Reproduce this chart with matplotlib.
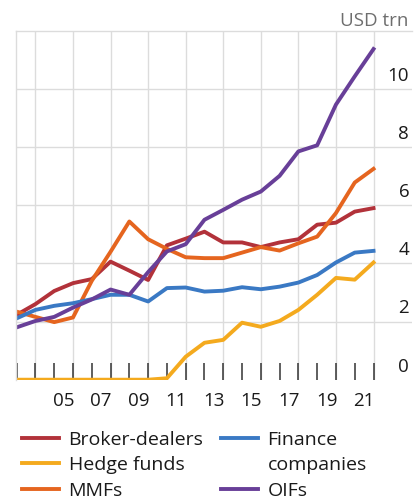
import matplotlib
matplotlib.use('Agg')

import matplotlib.pyplot as plt
from matplotlib.lines import Line2D

plt.rcParams['font.family'] = ['Open Sans', 'DejaVu Sans']

# Données (fin d'année, USD trn)
years = list(range(2003, 2023))
broker_dealers = [2.23, 2.60, 3.05, 3.32, 3.46, 4.06, 3.75, 3.43, 4.62, 4.85,
                  5.09, 4.72, 4.72, 4.56, 4.72, 4.83, 5.33, 5.40, 5.78, 5.90]
hedge_funds = [0, 0, 0, 0, 0, 0, 0, 0, 0.05, 0.79,
               1.27, 1.37, 1.96, 1.82, 2.02, 2.40, 2.92, 3.50, 3.44, 4.03]
mmfs = [2.34, 2.16, 1.98, 2.14, 3.40, 4.40, 5.44, 4.83, 4.50, 4.21,
        4.18, 4.18, 4.37, 4.56, 4.44, 4.69, 4.92, 5.73, 6.78, 7.25]
finance_cos = [2.11, 2.40, 2.54, 2.63, 2.77, 2.92, 2.92, 2.69, 3.15, 3.17,
               3.03, 3.06, 3.18, 3.11, 3.20, 3.34, 3.60, 4.03, 4.37, 4.43]
oifs = [1.80, 2.02, 2.16, 2.48, 2.76, 3.10, 2.92, 3.70, 4.41, 4.66,
        5.50, 5.84, 6.19, 6.47, 7.01, 7.85, 8.06, 9.46, 10.43, 11.37]

y_ticks = [0, 2, 4, 6, 8, 10]
grid_years = list(range(2004, 2023, 2))
label_years = list(range(2005, 2022, 2))

fig = plt.figure(figsize=(4.2, 5.01), dpi=100)
ax = fig.add_axes([0.0374, 0.2421, 0.9436, 0.6966])

lw = 2.8
ax.plot(years, broker_dealers, color='#B2323A', lw=lw, label='Broker-dealers')
ax.plot(years, hedge_funds, color='#F4AA1E', lw=lw, label='Hedge funds')
ax.plot(years, mmfs, color='#E5651F', lw=lw, label='MMFs')
ax.plot(years, finance_cos, color='#3A79C4', lw=lw, label='Finance')
ax.plot(years, oifs, color='#683F98', lw=lw, label='OIFs')

ax.set_xlim(2002.95, 2024.05)
ax.set_ylim(0, 12)

# Grille
for gy in grid_years:
    ax.axvline(gy, color='#DCDCDC', lw=1, zorder=0)
for v in y_ticks[1:]:
    ax.axhline(v, color='#DCDCDC', lw=1, zorder=0)

# Cadre
for side in ['right', 'bottom']:
    ax.spines[side].set_visible(False)
for side in ['top', 'left']:
    ax.spines[side].set_color('#DCDCDC')
    ax.spines[side].set_linewidth(1)

# Axe X : traits chaque année, étiquettes au milieu des années impaires
ax.set_xticks(years)
ax.set_xticklabels([])
ax.tick_params(axis='x', which='major', direction='in', length=12,
               width=1.1, color='#333333')
ax.set_xticks([y + 0.5 for y in label_years], minor=True)
ax.set_xticklabels([f'{y % 100:02d}' for y in label_years], minor=True)
ax.tick_params(axis='x', which='minor', length=0, pad=9,
               labelsize=13.5, labelcolor='#1A1A1A')

# Axe Y : étiquettes à droite, au-dessus des lignes
ax.set_yticks([])
for v in y_ticks:
    ax.annotate(str(v), xy=(1.0, v), xycoords=('axes fraction', 'data'),
                xytext=(-2, 3), textcoords='offset points',
                ha='right', va='bottom', fontsize=13.5, color='#1A1A1A')

fig.text(0.972, 0.958, 'USD trn', ha='right', va='center',
         fontsize=13.5, color='#6E6E6E')

# Légende
handles, labels = ax.get_legend_handles_labels()
blank = Line2D([], [], color='none')
order = [handles[0], handles[1], handles[2], handles[3], blank, handles[4]]
names = [labels[0], labels[1], labels[2], labels[3], 'companies', labels[4]]
fig.legend(order, names, ncol=2, loc='upper left',
           bbox_to_anchor=(0.052, 0.140), frameon=False, fontsize=14,
           handlelength=1.9, handletextpad=0.5, columnspacing=0.9,
           labelspacing=0.38, borderaxespad=0, borderpad=0,
           labelcolor='#1A1A1A')

fig.savefig('out.png', dpi=100, facecolor='white')
plt.close(fig)
